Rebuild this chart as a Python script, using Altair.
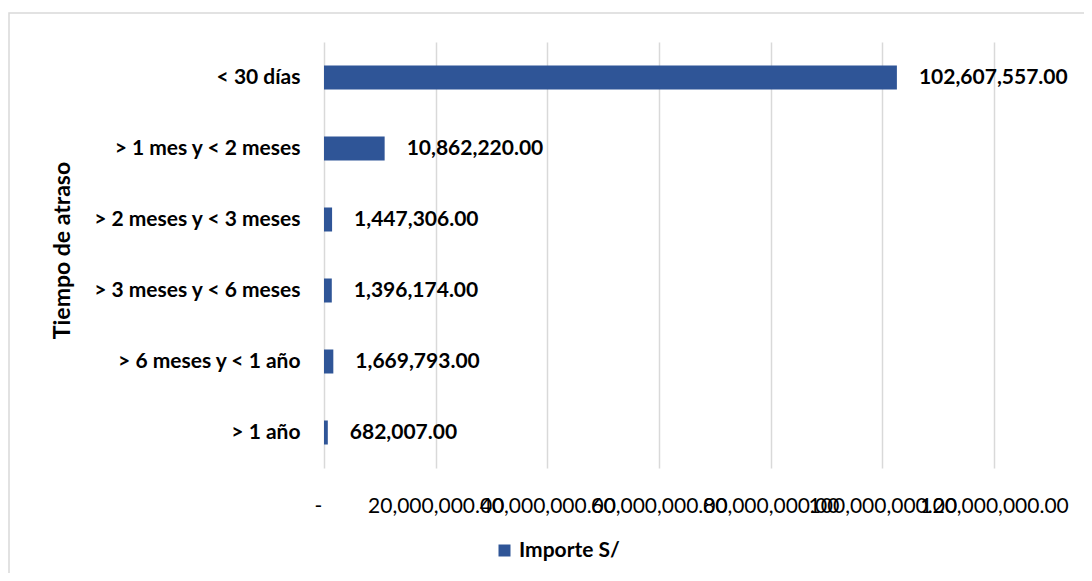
import altair as alt
import pandas as pd

categorias = ["< 30 días", "> 1 mes y < 2 meses", "> 2 meses y < 3 meses",
              "> 3 meses y < 6 meses", "> 6 meses y < 1 año", "> 1 año"]
importes = [102607557.00, 10862220.00, 1447306.00, 1396174.00, 1669793.00, 682007.00]
serie = "Importe S/"
x_ticks = [0, 20000000, 40000000, 60000000, 80000000, 100000000, 120000000]

df = pd.DataFrame({"cat": categorias, "val": importes, "serie": [serie] * len(categorias)})
df["lbl"] = [f"{v:,.2f}" for v in importes]

FONT = "Lato"
BLUE = "#2F5597"
FS = 21

base = alt.Chart(df)

border = alt.Chart(pd.DataFrame({"a": [0]})).mark_rect(
    fill=None, stroke="#d9d9d9", strokeWidth=1.5
).encode(
    x=alt.value(-315), x2=alt.value(800), y=alt.value(-29), y2=alt.value(560)
)

bars = base.mark_bar(size=24, color=BLUE).encode(
    y=alt.Y("cat:N", sort=categorias,
            scale=alt.Scale(paddingInner=0.66, paddingOuter=0.33),
            axis=alt.Axis(title="Tiempo de atraso", titleFont=FONT, titleFontSize=23,
                          titleFontWeight="bold", titleColor="#000000",
                          titleAngle=-90, titleX=-262, titleY=208,
                          titleAlign="center", titleBaseline="middle",
                          labelFont=FONT, labelFontSize=FS, labelFontWeight="bold",
                          labelColor="#000000", labelPadding=24, labelLimit=400,
                          ticks=False, domain=False, grid=False)),
    x=alt.X("val:Q", scale=alt.Scale(domain=[0, 120000000], nice=False),
            axis=alt.Axis(title=None, values=x_ticks,
                          labelExpr="datum.value == 0 ? '-' : format(datum.value, ',.2f')",
                          labelOffset={"condition": {"test": "datum.value == 0", "value": -6}, "value": 0},
                          labelFont=FONT, labelFontSize=FS, labelColor="#000000",
                          labelPadding=27, labelOverlap=False, labelFlush=False,
                          labelBound=False, labelLimit=400,
                          ticks=False, domain=False, grid=True,
                          gridColor="#d9d9d9", gridWidth=1.5)),
    color=alt.Color("serie:N", scale=alt.Scale(range=[BLUE]),
                    legend=alt.Legend(title=None, orient="none", legendX=170, legendY=498,
                                      symbolType="square", symbolSize=144,
                                      symbolStrokeWidth=0, labelOffset=4,
                                      labelFont=FONT, labelFontSize=FS,
                                      labelFontWeight="bold", labelColor="#000000")),
)

labels = base.mark_text(align="left", baseline="middle", dx=22, font=FONT,
                        fontSize=FS, fontWeight="bold", color="#000000").encode(
    y=alt.Y("cat:N", sort=categorias),
    x=alt.X("val:Q"),
    text="lbl:N",
)

chart = alt.layer(border, bars, labels).properties(
    width=670, height=426,
    padding={"left": 316, "top": 34, "right": 90, "bottom": 105},
    autosize=alt.AutoSizeParams(type="none"),
    background="white",
).configure_view(stroke=None)

chart.save("out.html", embed_options={"renderer": "svg", "actions": False})
